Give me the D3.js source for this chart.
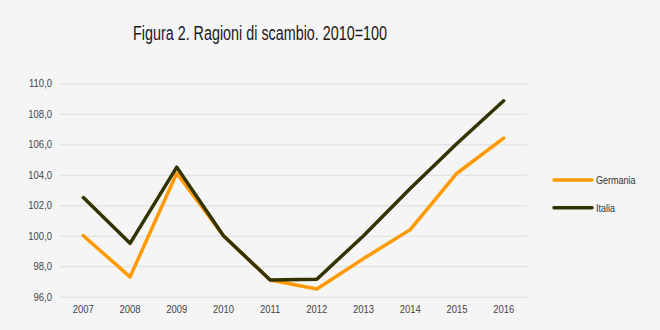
<!DOCTYPE html>
<html><head><meta charset="utf-8">
<script src="https://cdn.jsdelivr.net/npm/d3@7"></script>
<style>
html,body{margin:0;padding:0;background:#f5f5f5;}
svg{display:block;}
text{font-family:'Liberation Sans',Arial,sans-serif;}
</style></head>
<body>
<svg id="c" width="660" height="330"></svg>
<script>
const years = ["2007","2008","2009","2010","2011","2012","2013","2014","2015","2016"];
const germania = [100.0, 97.3, 104.1, 100.0, 97.1, 96.5, 98.5, 100.4, 104.1, 106.4];
const italia = [102.5, 99.5, 104.5, 100.0, 97.1, 97.15, 100.0, 103.1, 106.05, 108.85];
const yTicks = [96, 98, 100, 102, 104, 106, 108, 110];
const seriesNames = ["Germania", "Italia"];
const seriesColors = ["#ff9900", "#333300"];

const svg = d3.select("#c");
svg.append("rect").attr("width",660).attr("height",330).attr("fill","#f5f5f5");

const x = d3.scaleBand().domain(years).range([60, 527]);
const y = d3.scaleLinear().domain([96, 110]).range([296.7, 83.3]);

function narrow(sel, f) {
  sel.each(function() {
    const w = this.getComputedTextLength();
    d3.select(this).attr("textLength", w * f).attr("lengthAdjust", "spacingAndGlyphs");
  });
}

svg.append("text").attr("x", 133).attr("y", 40)
  .attr("font-family","'DejaVu Sans',sans-serif")
  .attr("font-size", 19.5).attr("fill","#1a1a1a")
  .attr("textLength", 254).attr("lengthAdjust","spacingAndGlyphs")
  .text("Figura 2. Ragioni di scambio. 2010=100");

const yAxis = svg.append("g").attr("transform","translate(60,0)")
  .call(d3.axisLeft(y).tickValues(yTicks).tickSize(-467).tickPadding(8)
    .tickFormat(d => d3.format(".1f")(d).replace(".", ",")));
yAxis.select(".domain").remove();
yAxis.selectAll(".tick line").attr("stroke","#dedede").attr("stroke-width",1);
yAxis.selectAll(".tick text").attr("font-size", 10.5).attr("fill","#444").call(narrow, 0.9);

const xAxis = svg.append("g").attr("transform","translate(0,296.7)")
  .call(d3.axisBottom(x).tickSize(0).tickPadding(9));
xAxis.select(".domain").remove();
xAxis.selectAll(".tick text").attr("font-size", 10.5).attr("fill","#444").call(narrow, 0.9);

const line = d3.line().x((d,i) => x(years[i]) + x.bandwidth()/2).y(d => y(d));
[germania, italia].forEach((s, k) => {
  svg.append("path").datum(s).attr("d", line).attr("fill","none")
    .attr("stroke", seriesColors[k]).attr("stroke-width", 3.5)
    .attr("stroke-linejoin","round").attr("stroke-linecap","round");
});

const leg = svg.append("g");
seriesNames.forEach((n, k) => {
  const ly = 180 + k * 27.7;
  leg.append("line").attr("x1", 554).attr("x2", 592).attr("y1", ly).attr("y2", ly)
    .attr("stroke", seriesColors[k]).attr("stroke-width", 3.5).attr("stroke-linecap","round");
  leg.append("text").attr("x", 596).attr("y", ly + 4)
    .attr("font-size", 11).attr("fill","#333").text(n).call(narrow, 0.82);
});
</script>
</body></html>
